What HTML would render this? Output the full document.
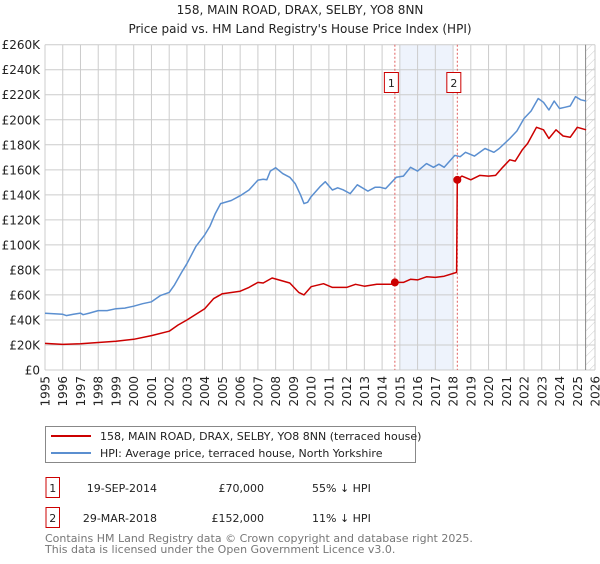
<!DOCTYPE html>
<html><head><meta charset="utf-8"><style>
body{margin:0;background:#fff;font-family:"DejaVu Sans","Liberation Sans",sans-serif;}
svg text{font-family:"DejaVu Sans","Liberation Sans",sans-serif;}
</style></head><body>
<svg id="chart" width="600" height="560" xmlns="http://www.w3.org/2000/svg">
<defs><pattern id="hatch" width="6" height="6" patternUnits="userSpaceOnUse" patternTransform="rotate(45)"><line x1="0" y1="0" x2="0" y2="6" stroke="#ccc" stroke-width="1"/></pattern></defs>
<text x="300" y="14" text-anchor="middle" font-size="12" fill="#222">158, MAIN ROAD, DRAX, SELBY, YO8 8NN</text>
<text x="300" y="33" text-anchor="middle" font-size="12" fill="#222">Price paid vs. HM Land Registry's House Price Index (HPI)</text>
<g id="grid"></g><g id="series"></g><g id="axes"></g>
<g>
<rect x="45.5" y="426.5" width="370" height="36" fill="#fff" stroke="#888"/>
<line x1="51" y1="436" x2="91" y2="436" stroke="#cc0000" stroke-width="2"/>
<text x="100" y="440" font-size="11" fill="#222">158, MAIN ROAD, DRAX, SELBY, YO8 8NN (terraced house)</text>
<line x1="51" y1="453" x2="91" y2="453" stroke="#5b8fd0" stroke-width="2"/>
<text x="100" y="457" font-size="11" fill="#222">HPI: Average price, terraced house, North Yorkshire</text>
</g>
<g font-size="11" fill="#222">
<rect x="46" y="477.5" width="13.5" height="20" fill="#fff" stroke="#cc0000"/>
<text x="52.7" y="492" text-anchor="middle">1</text>
<text x="157" y="492" text-anchor="end">19-SEP-2014</text>
<text x="264" y="492" text-anchor="end">£70,000</text>
<text x="312" y="492">55% ↓ HPI</text>
<rect x="46" y="507.5" width="13.5" height="20" fill="#fff" stroke="#cc0000"/>
<text x="52.7" y="522" text-anchor="middle">2</text>
<text x="157" y="522" text-anchor="end">29-MAR-2018</text>
<text x="264" y="522" text-anchor="end">£152,000</text>
<text x="312" y="522">11% ↓ HPI</text>
</g>
<text x="45" y="542" font-size="11" fill="#777">Contains HM Land Registry data © Crown copyright and database right 2025.</text>
<text x="45" y="553" font-size="11" fill="#777">This data is licensed under the Open Government Licence v3.0.</text>
</svg>
<script>
const yTicks=[0,20,40,60,80,100,120,140,160,180,200,220,240,260];
const yearTicks=[1995,1996,1997,1998,1999,2000,2001,2002,2003,2004,2005,2006,2007,2008,2009,2010,2011,2012,2013,2014,2015,2016,2017,2018,2019,2020,2021,2022,2023,2024,2025,2026];
const hpiYears=[1995,1995.5,1996,1996.2,1996.6,1997,1997.15,1997.5,1998,1998.5,1999,1999.5,2000,2000.5,2001,2001.5,2002,2002.3,2002.7,2003,2003.5,2004,2004.3,2004.6,2004.9,2005.5,2006,2006.5,2007,2007.3,2007.5,2007.7,2008,2008.4,2008.8,2009.1,2009.4,2009.6,2009.8,2010,2010.5,2010.8,2011.2,2011.5,2011.8,2012.2,2012.6,2013.2,2013.6,2013.9,2014.2,2014.8,2015.2,2015.6,2016,2016.5,2016.9,2017.2,2017.5,2018.1,2018.4,2018.7,2019.2,2019.8,2020.3,2020.6,2021.2,2021.6,2022,2022.4,2022.8,2023.1,2023.4,2023.7,2024.0,2024.3,2024.6,2024.9,2025.2,2025.5];
const hpiValues=[45.3,45,44.5,43.5,44.5,45.5,44.2,45.5,47.5,47.5,49,49.5,51,53,54.5,59.5,62,68,78,85,98.6,108,115,125,133,135.5,139.3,143.9,151.8,152.5,152,159,161.7,157,154,149,140,133,134,138.5,146.5,150.5,143.9,145.6,144,141,148,143,146,146,145,154,155,162,159,165,162,164.5,162,171.5,170.5,174,171,177,174,177,185,191,201,207,217,214,207.8,215,209,210,211,218.5,216,215];
const priceYears=[1995,1996,1997,1998,1999,2000,2001,2002,2002.5,2003,2004,2004.5,2005,2006,2006.5,2007,2007.3,2007.8,2008.3,2008.8,2009.3,2009.6,2010,2010.7,2011.2,2012,2012.5,2013,2013.7,2014.5,2014.72,2015.2,2015.6,2016,2016.5,2017,2017.5,2018.2,2018.24,2018.5,2019,2019.5,2020,2020.4,2020.8,2021.2,2021.5,2021.9,2022.2,2022.7,2023.1,2023.4,2023.8,2024.2,2024.6,2025,2025.5];
const priceValues=[21.3,20.5,21,22,23,24.5,27.5,31,36,40,49,57,61,63,66,70,69.5,73.5,71.5,69.5,62,60,66.6,69,66,66,68.5,67,68.5,68.5,70,70,72.5,72,74.5,74,75,78,152,155,152,155.5,155,155.5,162,168,167,176,181,194,192,185,192,187,186,194,192];
const saleYears=[2014.72,2018.24];
const saleValues=[70,152];
const saleLabels=["1","2"];

const X0=45,X1=595,Y0=370,Y1=44.7;
const xs=y=>X0+(y-1995)*(X1-X0)/31;
const ys=v=>Y0-v*(Y0-Y1)/260;
const NS="http://www.w3.org/2000/svg";
function mk(tag,attrs,parent){const e=document.createElementNS(NS,tag);for(const k in attrs)e.setAttribute(k,attrs[k]);parent.appendChild(e);return e;}
const grid=document.getElementById('grid'),series=document.getElementById('series'),axes=document.getElementById('axes');

let r=mk('rect',{x:xs(2015),y:Y1,width:xs(2018)-xs(2015),height:Y0-Y1,fill:'#eef3fc'},grid);


r=mk('rect',{x:xs(2025.47),y:Y1,width:X1-xs(2025.47),height:Y0-Y1,fill:'url(#hatch)'},grid);


yTicks.forEach(v=>{
  const l=mk('line',{x1:X0,x2:X1,y1:ys(v),y2:ys(v),stroke:'#ccc','stroke-width':1},grid);
  
  
  const t=mk('text',{x:40,y:ys(v)+4.5,'text-anchor':'end','font-size':12,fill:'#222'},axes);
  t.textContent=v===0?'£0':'£'+v+'K';
  
  
});
yearTicks.forEach(yr=>{
  const l=mk('line',{x1:xs(yr),x2:xs(yr),y1:Y1,y2:Y0,stroke:'#ccc','stroke-width':1},grid);
  
  
  const t=mk('text',{x:0,y:0,'text-anchor':'end','font-size':12,fill:'#222',transform:`translate(${xs(yr)+4.5},376) rotate(-90)`},axes);
  t.textContent=yr;
  
  
});
const endL=mk('line',{x1:xs(2025.47),x2:xs(2025.47),y1:Y1,y2:Y0,stroke:'#888','stroke-width':1},grid);


saleYears.forEach((yr,i)=>{
  const l=mk('line',{x1:xs(yr),x2:xs(yr),y1:Y1,y2:Y0,stroke:'#e06060','stroke-width':1,'stroke-dasharray':'2,2'},grid);
  
  
  const b=mk('rect',{x:xs(yr)-10.5,y:72.5,width:14,height:20,fill:'#fff',stroke:'#cc0000'},axes);
  
  
  const t=mk('text',{x:xs(yr)-3.5,y:87,'text-anchor':'middle','font-size':11,fill:'#222'},axes);
  t.textContent=saleLabels[i];
  
  
});
function path(xa,va){return xa.map((x,i)=>(i?'L':'M')+xs(x).toFixed(1)+','+ys(va[i]).toFixed(1)).join('');}
const hp=mk('path',{d:path(hpiYears,hpiValues),fill:'none',stroke:'#5b8fd0','stroke-width':1.5,'stroke-linejoin':'round'},series);


const pp=mk('path',{d:path(priceYears,priceValues),fill:'none',stroke:'#cc0000','stroke-width':1.5,'stroke-linejoin':'round'},series);


saleYears.forEach((yr,i)=>{
  const c=mk('circle',{cx:xs(yr),cy:ys(saleValues[i]),r:4,fill:'#cc0000'},series);
  
  
});
</script>
</body></html>
